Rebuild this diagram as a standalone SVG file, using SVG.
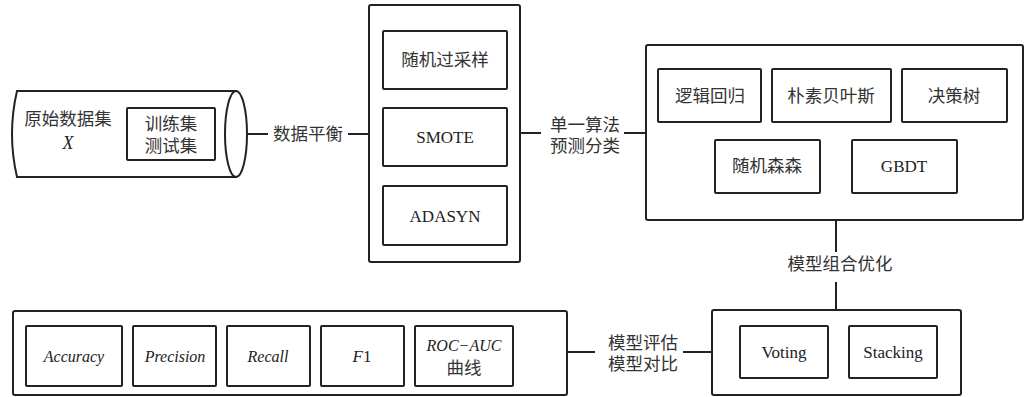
<svg xmlns="http://www.w3.org/2000/svg" width="1028" height="397" viewBox="0 0 1028 397">
<style>
.o{fill:#fff;stroke:#222;stroke-width:2}
.i{fill:#fff;stroke:#222;stroke-width:2}
.c{fill:none;stroke:#222;stroke-width:2}
.t{font-family:'Noto Sans CJK SC',sans-serif;font-size:17.5px;fill:#333;text-anchor:middle}
.l{font-family:'Liberation Serif','DejaVu Serif','Times New Roman',serif;font-size:17px;fill:#222;text-anchor:middle}
.it{font-family:'Liberation Serif','DejaVu Serif','Times New Roman',serif;font-size:16px;font-style:italic;fill:#222;text-anchor:middle}
</style>
<rect width="1028" height="397" fill="#fff"/>
<g id="connectors">
<line class="c" x1="247" y1="134" x2="268" y2="134"/>
<line class="c" x1="348" y1="134" x2="369" y2="134"/>
<line class="c" x1="520" y1="133" x2="541" y2="133"/>
<line class="c" x1="624" y1="133" x2="646" y2="133"/>
<line class="c" x1="761" y1="96" x2="772" y2="96"/>
<line class="c" x1="836" y1="220" x2="836" y2="252"/>
<line class="c" x1="836" y1="282" x2="836" y2="310"/>
<line class="c" x1="567" y1="352" x2="595" y2="352"/>
<line class="c" x1="683" y1="352" x2="712" y2="352"/>
<text class="t" x="308" y="140">数据平衡</text>
<text class="t" x="585" y="131"><tspan x="585">单一算法</tspan><tspan x="585" dy="21">预测分类</tspan></text>
<text class="t" x="840" y="270">模型组合优化</text>
<text class="t" x="643" y="349"><tspan x="643">模型评估</tspan><tspan x="643" dy="21">模型对比</tspan></text>
</g>
<g id="dataset">
<path class="o" d="M17,91 L236,91 L236,177 L17,177 Q7,134 17,91 Z"/>
<ellipse class="o" cx="236" cy="134" rx="11" ry="43"/>
<text class="t" x="68" y="125">原始数据集</text>
<text class="it" x="68" y="149" style="font-size:18px">X</text>
<rect class="i" x="127" y="108" width="88" height="52" rx="1"/>
<text class="t" x="171" y="130"><tspan x="171">训练集</tspan><tspan x="171" dy="22">测试集</tspan></text>
</g>
<g id="balance">
<rect class="o" x="369" y="5" width="151" height="257" rx="2"/>
<g id="ros"><rect class="i" x="383" y="31" width="124" height="58" rx="1"/><text class="t" x="445" y="66">随机过采样</text></g>
<g id="smote"><rect class="i" x="383" y="108" width="124" height="58" rx="1"/><text class="l" x="445" y="143">SMOTE</text></g>
<g id="adasyn"><rect class="i" x="383" y="186" width="124" height="59" rx="1"/><text class="l" x="445" y="222">ADASYN</text></g>
</g>
<g id="algorithms">
<rect class="o" x="646" y="45" width="377" height="175" rx="2"/>
<g id="lr"><rect class="i" x="658" y="69" width="103" height="53" rx="1"/><text class="t" x="710" y="102">逻辑回归</text></g>
<g id="nb"><rect class="i" x="772" y="69" width="119" height="53" rx="1"/><text class="t" x="831" y="102">朴素贝叶斯</text></g>
<g id="dt"><rect class="i" x="902" y="69" width="105" height="53" rx="1"/><text class="t" x="954" y="102">决策树</text></g>
<g id="rf"><rect class="i" x="715" y="140" width="105" height="53" rx="1"/><text class="t" x="767" y="172">随机森森</text></g>
<g id="gbdt"><rect class="i" x="852" y="140" width="105" height="53" rx="1"/><text class="l" x="904" y="172">GBDT</text></g>
</g>
<g id="ensemble">
<rect class="o" x="712" y="310" width="249" height="85" rx="2"/>
<g id="voting"><rect class="i" x="740" y="326" width="88" height="52" rx="1"/><text class="l" x="784" y="358">Voting</text></g>
<g id="stacking"><rect class="i" x="849" y="326" width="88" height="52" rx="1"/><text class="l" x="893" y="358">Stacking</text></g>
</g>
<g id="metrics">
<rect class="o" x="13" y="311" width="554" height="84" rx="2"/>
<g id="acc"><rect class="i" x="26" y="326" width="96" height="60" rx="1"/><text class="it" x="74" y="362">Accuracy</text></g>
<g id="prec"><rect class="i" x="133" y="326" width="83" height="60" rx="1"/><text class="it" x="175" y="362">Precision</text></g>
<g id="rec"><rect class="i" x="227" y="326" width="83" height="60" rx="1"/><text class="it" x="268" y="362">Recall</text></g>
<g id="f1"><rect class="i" x="321" y="326" width="83" height="60" rx="1"/><text class="l" x="362" y="362"><tspan font-style="italic">F</tspan>1</text></g>
<g id="roc"><rect class="i" x="415" y="326" width="98" height="60" rx="1"/><text class="it" x="464" y="351">ROC−AUC</text><text class="t" x="464" y="374">曲线</text></g>
</g>
</svg>
